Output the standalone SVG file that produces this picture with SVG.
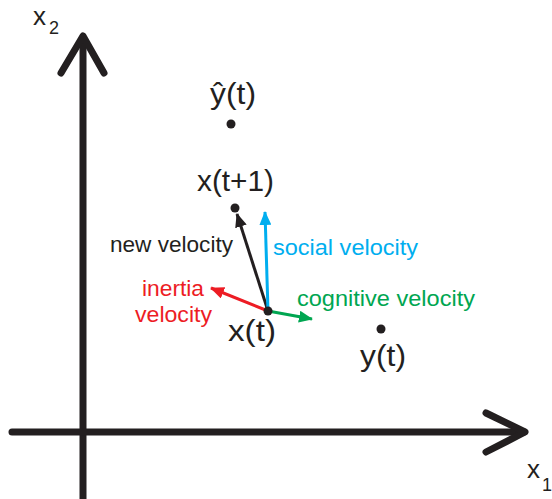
<svg xmlns="http://www.w3.org/2000/svg" width="552" height="499" viewBox="0 0 552 499">
<style>
text{font-family:"Liberation Sans",Arial,sans-serif;}
.ax{stroke:#231f20;stroke-width:7;fill:none;stroke-linecap:round;stroke-linejoin:round;}
.m{font-size:29px;fill:#231f20;}
.l{font-size:22px;}
.dot{fill:#231f20;}
.v{stroke-width:3;fill:none;}
</style>
<defs>
<marker id="ak" viewBox="0 0 14 12" refX="13" refY="6" markerWidth="14" markerHeight="12" markerUnits="userSpaceOnUse" orient="auto"><path d="M0,0 L14,6 L0,12 Z" fill="#231f20"/></marker>
<marker id="ab" viewBox="0 0 14 12" refX="13" refY="6" markerWidth="14" markerHeight="12" markerUnits="userSpaceOnUse" orient="auto"><path d="M0,0 L14,6 L0,12 Z" fill="#00aeef"/></marker>
<marker id="ar" viewBox="0 0 14 12" refX="13" refY="6" markerWidth="14" markerHeight="12" markerUnits="userSpaceOnUse" orient="auto"><path d="M0,0 L14,6 L0,12 Z" fill="#ed1c24"/></marker>
<marker id="ag" viewBox="0 0 14 12" refX="13" refY="6" markerWidth="14" markerHeight="12" markerUnits="userSpaceOnUse" orient="auto"><path d="M0,0 L14,6 L0,12 Z" fill="#00a651"/></marker>
</defs>
<g id="axes">
<path class="ax" d="M83,38 L83,502"/>
<path class="ax" d="M61,73 L83,36 L104,73"/>
<path class="ax" d="M12,432 L524,432"/>
<path class="ax" d="M486,413 L525,432 L486,452"/>
<text x="33" y="25" font-size="26" fill="#231f20">x</text>
<text x="49" y="34" font-size="18" fill="#231f20">2</text>
<text x="527" y="478" font-size="26" fill="#231f20">x</text>
<text x="542" y="491" font-size="18" fill="#231f20">1</text>
</g>
<g id="connectors">
<path class="v" stroke="#231f20" d="M268,311 L237,214" marker-end="url(#ak)"/>
<path class="v" stroke="#00aeef" d="M268,311 L265,212" marker-end="url(#ab)"/>
<path class="v" stroke="#ed1c24" d="M268,311 L211,288" marker-end="url(#ar)"/>
<path class="v" stroke="#00a651" d="M268,311 L312,319" marker-end="url(#ag)"/>
</g>
<g id="yhat">
<circle class="dot" cx="231" cy="124" r="4.5"/>
<text class="m" x="210" y="104" textLength="46" lengthAdjust="spacingAndGlyphs">ŷ(t)</text>
</g>
<g id="xt1">
<circle class="dot" cx="235" cy="208" r="4.5"/>
<text class="m" x="197" y="191" textLength="77" lengthAdjust="spacingAndGlyphs">x(t+1)</text>
</g>
<g id="xt">
<circle class="dot" cx="268" cy="311" r="4.5"/>
<text class="m" x="228" y="341" textLength="48" lengthAdjust="spacingAndGlyphs">x(t)</text>
</g>
<g id="yt">
<circle class="dot" cx="381" cy="329" r="4.5"/>
<text class="m" x="360" y="366" textLength="46" lengthAdjust="spacingAndGlyphs">y(t)</text>
</g>
<g id="labels">
<text class="l" x="110" y="252" fill="#231f20" textLength="123" lengthAdjust="spacingAndGlyphs">new velocity</text>
<text class="l" x="273" y="255" fill="#00aeef" textLength="145" lengthAdjust="spacingAndGlyphs">social velocity</text>
<text class="l" x="297" y="306" fill="#00a651" textLength="178" lengthAdjust="spacingAndGlyphs">cognitive velocity</text>
<text class="l" x="142" y="296" fill="#ed1c24" textLength="62" lengthAdjust="spacingAndGlyphs">inertia</text>
<text class="l" x="135" y="322" fill="#ed1c24" textLength="77" lengthAdjust="spacingAndGlyphs">velocity</text>
</g>
</svg>
